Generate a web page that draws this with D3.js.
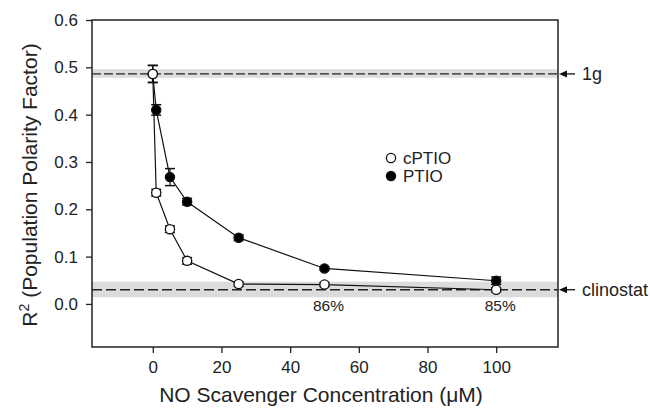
<!DOCTYPE html>
<html>
<head>
<meta charset="utf-8">
<script src="https://cdn.jsdelivr.net/npm/d3@7/dist/d3.min.js"></script>
<style>
html,body{margin:0;padding:0;background:#fff;}
svg{display:block;font-family:"Liberation Sans",Arial,sans-serif;}
</style>
</head>
<body>
<svg id="chart" width="650" height="411"></svg>
<script>
// ---- data ----
const concentrations = [0, 1, 5, 10, 25, 50, 100];
const cptioValues = [0.486, 0.235, 0.158, 0.091, 0.042, 0.041, 0.030];
const cptioErrors = [0.018, 0.007, 0.007, 0.007, 0.005, 0.004, 0.004];
const ptioValues  = [0.486, 0.410, 0.268, 0.216, 0.140, 0.075, 0.049];
const ptioErrors  = [0.018, 0.011, 0.018, 0.007, 0.006, 0.003, 0.008];
const seriesNames = ["cPTIO", "PTIO"];
const xTicks = [0, 20, 40, 60, 80, 100];
const yTicks = [0.0, 0.1, 0.2, 0.3, 0.4, 0.5, 0.6];
const refLines = [
  {label: "1g", value: 0.486, lo: 0.478, hi: 0.496},
  {label: "clinostat", value: 0.030, lo: 0.014, hi: 0.047}
];
const pctLabels = [{x: 50, text: "86%"}, {x: 100, text: "85%"}];

const svg = d3.select("#chart");
const L = 92, R = 558, T = 20, B = 347;
const x = d3.scaleLinear().domain([-17.7, 118]).range([L, R]);
const y = d3.scaleLinear().domain([-0.091, 0.6]).range([B, T]);

// reference bands
refLines.forEach((r, i) => {
  svg.append("rect").attr("x", L).attr("width", R - L)
    .attr("y", y(r.hi)).attr("height", y(r.lo) - y(r.hi))
    .attr("fill", "#dcdcdc");
  svg.append("line").attr("x1", L).attr("x2", R)
    .attr("y1", y(r.value)).attr("y2", y(r.value))
    .attr("stroke", "#222").attr("stroke-width", 1.3)
    .attr("stroke-dasharray", i === 0 ? "9,3" : "10,4");
});

// frame
svg.append("rect").attr("x", L).attr("y", T).attr("width", R - L).attr("height", B - T)
  .attr("fill", "none").attr("stroke", "#222").attr("stroke-width", 1.5);

// axes
const xAxis = svg.append("g").attr("transform", `translate(0,${B})`)
  .call(d3.axisBottom(x).tickValues(xTicks).tickSize(6).tickSizeOuter(0).tickPadding(8));
const yAxis = svg.append("g").attr("transform", `translate(${L},0)`)
  .call(d3.axisLeft(y).tickValues(yTicks).tickFormat(d3.format(".1f")).tickSize(6).tickSizeOuter(0).tickPadding(8));
[xAxis, yAxis].forEach(g => {
  g.select(".domain").remove();
  g.selectAll("line").attr("stroke", "#222").attr("stroke-width", 1.3);
  g.selectAll("text").attr("font-size", 17).attr("fill", "#222")
    .attr("font-family", "Liberation Sans, Arial, sans-serif");
});

// axis labels
svg.append("text").attr("x", 321).attr("y", 402).attr("text-anchor", "middle")
  .attr("font-size", 21).attr("fill", "#222").text("NO Scavenger Concentration (\u03BCM)");
const yl = svg.append("text").attr("transform", "translate(37,185) rotate(-90)")
  .attr("text-anchor", "middle").attr("font-size", 21).attr("fill", "#222");
yl.append("tspan").text("R");
yl.append("tspan").attr("dy", -8).attr("font-size", 14).text("2");
yl.append("tspan").attr("dy", 8).text(" (Population Polarity Factor)");

// series
const series = [
  {name: seriesNames[0], vals: cptioValues, errs: cptioErrors, fill: "#fff"},
  {name: seriesNames[1], vals: ptioValues, errs: ptioErrors, fill: "#000"}
];
const line = d3.line().x(d => x(d.x)).y(d => y(d.v));
series.forEach(s => {
  const pts = concentrations.map((c, i) => ({x: c, v: s.vals[i], e: s.errs[i]}));
  svg.append("path").datum(pts).attr("d", line).attr("fill", "none")
    .attr("stroke", "#111").attr("stroke-width", 1.2);
});
// draw PTIO first then cPTIO on top
[series[1], series[0]].forEach(s => {
  const pts = concentrations.map((c, i) => ({x: c, v: s.vals[i], e: s.errs[i]}));
  const g = svg.append("g");
  pts.forEach(p => {
    const cx = x(p.x), y1 = y(p.v + p.e), y2 = y(p.v - p.e);
    g.append("line").attr("x1", cx).attr("x2", cx).attr("y1", y1).attr("y2", y2)
      .attr("stroke", "#111").attr("stroke-width", 1.2);
    [y1, y2].forEach(yy => g.append("line").attr("x1", cx - 5).attr("x2", cx + 5)
      .attr("y1", yy).attr("y2", yy).attr("stroke", "#111").attr("stroke-width", 1.5));
  });
  g.selectAll("circle").data(pts).join("circle")
    .attr("cx", d => x(d.x)).attr("cy", d => y(d.v)).attr("r", 4.6)
    .attr("fill", s.fill).attr("stroke", "#111").attr("stroke-width", 1.3);
});

// percent labels
pctLabels.forEach(p => {
  svg.append("text").attr("x", x(p.x) + 4).attr("y", 311).attr("text-anchor", "middle")
    .attr("font-size", 15.5).attr("fill", "#222").text(p.text);
});

// legend
series.forEach((s, i) => {
  const ly = 158 + i * 18;
  svg.append("circle").attr("cx", 391).attr("cy", ly).attr("r", 4.6)
    .attr("fill", s.fill).attr("stroke", "#111").attr("stroke-width", 1.3);
  svg.append("text").attr("x", 403).attr("y", ly + 6).attr("font-size", 17)
    .attr("fill", "#222").text(s.name);
});

// right-side arrows and labels
refLines.forEach(r => {
  const yy = y(r.value);
  svg.append("line").attr("x1", 575).attr("x2", 564).attr("y1", yy).attr("y2", yy)
    .attr("stroke", "#111").attr("stroke-width", 1.3);
  svg.append("path").attr("d", `M${R + 1},${yy} L${R + 9},${yy - 3.5} L${R + 9},${yy + 3.5} Z`)
    .attr("fill", "#111");
  svg.append("text").attr("x", 582).attr("y", yy + 6.5).attr("font-size", 18)
    .attr("fill", "#222").text(r.label);
});
</script>
</body>
</html>
